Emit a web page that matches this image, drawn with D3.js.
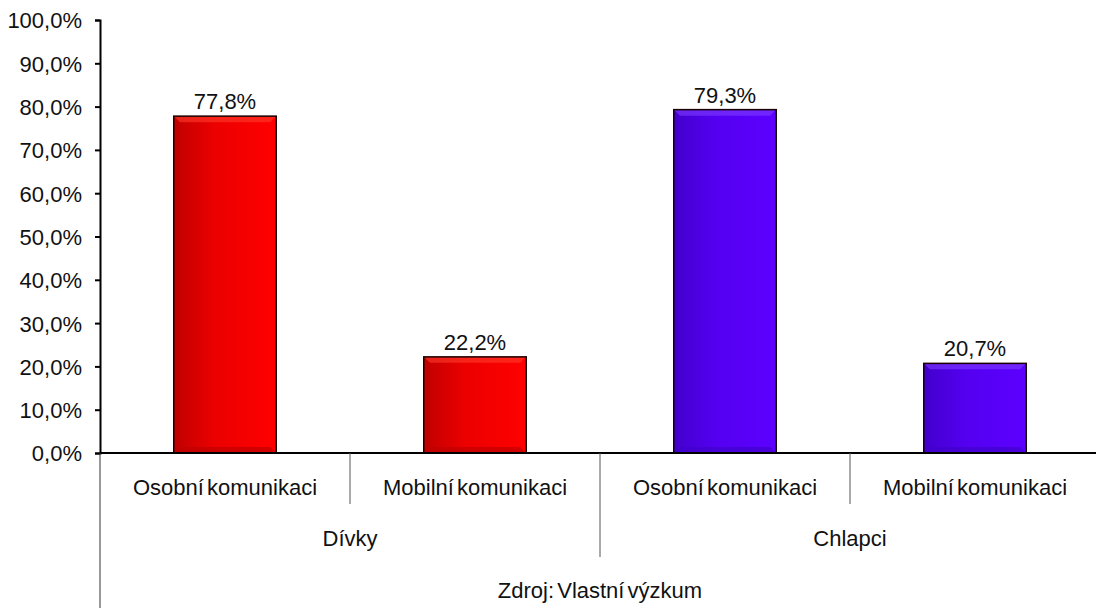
<!DOCTYPE html>
<html>
<head>
<meta charset="utf-8">
<script src="https://cdn.jsdelivr.net/npm/d3@7"></script>
<style>
  body { margin: 0; background: #fff; }
  svg text { font-family: "Liberation Sans", Arial, sans-serif; fill: #111; }
</style>
</head>
<body>
<div class="container"></div>
<script>
const categories = ['Osobní komunikaci', 'Mobilní komunikaci', 'Osobní komunikaci', 'Mobilní komunikaci'];
const groups = ['Dívky', 'Dívky', 'Chlapci', 'Chlapci'];
const groupNames = ['Dívky', 'Chlapci'];
const values = [77.8, 22.2, 79.3, 20.7];
const yTicks = [0, 10, 20, 30, 40, 50, 60, 70, 80, 90, 100];
const source = 'Zdroj: Vlastní výzkum';

const w = 1096;
const h = 608;
const margin = {top: 20, left: 100, right: -4, bottom: 155};
const height = h - margin.top - margin.bottom;

// per group: base, dark, light
const palette = {
  'Dívky':   {base: '#ff0000', dark: '#c00000', light: '#ff3a2a'},
  'Chlapci': {base: '#5c00ff', dark: '#4200cc', light: '#7e3cff'}
};

const fmt = v => d3.format('.1f')(v).replace('.', ',') + '%';

const svg = d3.select('.container').append('svg')
  .attr('width', w)
  .attr('height', h);

const defs = svg.append('defs');
groupNames.forEach((g, i) => {
  const c = palette[g];
  const grad = defs.append('linearGradient')
    .attr('id', 'grad' + i)
    .attr('x1', 0).attr('x2', 1).attr('y1', 0).attr('y2', 0);
  grad.append('stop').attr('offset', '0%').attr('stop-color', c.dark);
  grad.append('stop').attr('offset', '40%').attr('stop-color', d3.interpolate(c.dark, c.base)(0.7));
  grad.append('stop').attr('offset', '100%').attr('stop-color', c.base);
});

const x = d3.scaleBand()
  .domain(d3.range(categories.length))
  .range([margin.left, w - margin.right])
  .padding(0);

const y = d3.scaleLinear()
  .domain([0, 100])
  .range([margin.top + height, margin.top]);

const barW = x.bandwidth() * 0.41;
const bev = 6;
const fs = '22px';

// y axis
const yAxis = d3.axisLeft(y)
  .tickValues(yTicks)
  .tickFormat(fmt)
  .tickSize(5)
  .tickSizeOuter(5)
  .tickPadding(13);

const ya = svg.append('g')
  .attr('transform', `translate(${margin.left},0)`)
  .call(yAxis);
ya.select('.domain').attr('stroke', '#000').attr('stroke-width', 2);
ya.selectAll('.tick line').attr('stroke', '#000').attr('stroke-width', 2);
ya.selectAll('.tick text')
  .style('font-size', fs)
  .style('font-family', '"Liberation Sans", Arial, sans-serif')
  .attr('fill', '#111')
  .attr('dy', '0.36em');

// bars
const bars = svg.append('g').selectAll('g.bar')
  .data(values)
  .join('g')
  .attr('class', 'bar');

bars.each(function(v, i) {
  const g = d3.select(this);
  const gi = groupNames.indexOf(groups[i]);
  const c = palette[groups[i]];
  const x0 = x(i) + (x.bandwidth() - barW) / 2;
  const x1 = x0 + barW;
  const y0 = y(v);
  const y1 = y(0);
  g.append('rect')
    .attr('x', x0).attr('y', y0)
    .attr('width', barW).attr('height', y1 - y0)
    .attr('fill', `url(#grad${gi})`);
  // top bevel
  g.append('polygon')
    .attr('points', [[x0, y0], [x1, y0], [x1 - bev, y0 + bev], [x0 + bev, y0 + bev]].join(' '))
    .attr('fill', c.light).attr('opacity', 0.6);
  // left bevel
  g.append('polygon')
    .attr('points', [[x0, y0], [x0 + bev, y0 + bev], [x0 + bev, y1 - bev], [x0, y1]].join(' '))
    .attr('fill', c.dark).attr('opacity', 0.5);
  // right bevel
  g.append('polygon')
    .attr('points', [[x1, y0], [x1 - bev, y0 + bev], [x1 - bev, y1 - bev], [x1, y1]].join(' '))
    .attr('fill', c.base).attr('opacity', 0.6);
  // bottom bevel
  g.append('polygon')
    .attr('points', [[x0, y1], [x0 + bev, y1 - bev], [x1 - bev, y1 - bev], [x1, y1]].join(' '))
    .attr('fill', c.dark).attr('opacity', 0.7);
  g.append('rect')
    .attr('x', x0).attr('y', y0)
    .attr('width', barW).attr('height', y1 - y0)
    .attr('fill', 'none')
    .attr('stroke', '#1a0000')
    .attr('stroke-width', 1.5);
  g.append('text')
    .attr('x', x0 + barW / 2)
    .attr('y', y0 - 7)
    .attr('text-anchor', 'middle')
    .style('font-size', fs)
    .text(fmt(v));
});

// x axis line
svg.append('line')
  .attr('x1', margin.left).attr('x2', w)
  .attr('y1', y(0)).attr('y2', y(0))
  .attr('stroke', '#000').attr('stroke-width', 2);

// y axis extension below plot
svg.append('line')
  .attr('x1', margin.left).attr('x2', margin.left)
  .attr('y1', y(0)).attr('y2', h)
  .attr('stroke', '#333').attr('stroke-width', 1);

// category labels
svg.append('g').selectAll('text')
  .data(categories)
  .join('text')
  .attr('x', (d, i) => x(i) + x.bandwidth() / 2)
  .attr('y', 495)
  .attr('text-anchor', 'middle')
  .style('font-size', fs)
  .style('word-spacing', '-3px')
  .text(d => d);

// dividers between categories
const dividers = d3.range(1, categories.length);
svg.append('g').selectAll('line')
  .data(dividers)
  .join('line')
  .attr('x1', i => x(i)).attr('x2', i => x(i))
  .attr('y1', y(0))
  .attr('y2', i => groups[i] !== groups[i - 1] ? 557 : 504)
  .attr('stroke', '#555').attr('stroke-width', 1);

// group labels
svg.append('g').selectAll('text')
  .data(groupNames)
  .join('text')
  .attr('x', g => {
    const idx = groups.map((d, i) => d === g ? i : -1).filter(i => i >= 0);
    return (x(idx[0]) + x(idx[idx.length - 1]) + x.bandwidth()) / 2;
  })
  .attr('y', 546)
  .attr('text-anchor', 'middle')
  .style('font-size', fs)
  .text(d => d);

svg.append('text')
  .attr('x', (x(0) + x(categories.length - 1) + x.bandwidth()) / 2)
  .attr('y', 598)
  .attr('text-anchor', 'middle')
  .style('font-size', fs)
  .style('word-spacing', '-3px')
  .text(source);
</script>
</body>
</html>
